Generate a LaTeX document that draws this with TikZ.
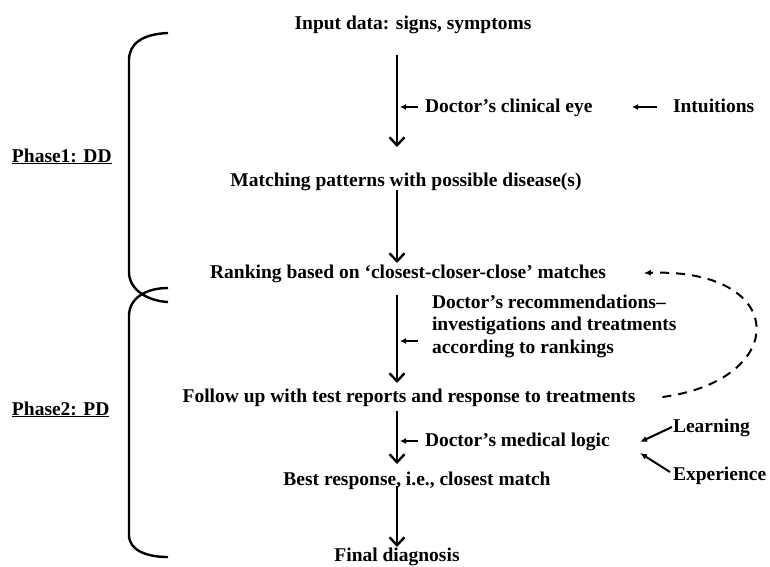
\documentclass[tikz,border=0pt]{standalone}
\usepackage{fontspec}
\setmainfont{Liberation Serif}
\usetikzlibrary{arrows.meta}

\begin{document}
\begin{tikzpicture}[x=1pt, y=-1pt,
    lbl/.style={font=\fontsize{19.5}{22.5}\selectfont\bfseries, inner sep=0pt, outer sep=0pt, text height=14pt, text depth=4pt},
    blk/.style={font=\fontsize{19.5}{22.5}\selectfont\bfseries, inner sep=0pt, outer sep=0pt, align=left},
    flow/.style={-{Straight Barb[length=8pt,width=15pt,line width=2.4pt]}, line width=2.4pt},
    side/.style={-{Latex[length=6pt,width=6pt]}, line width=1.6pt},
    feed/.style={-{Latex[length=7pt,width=6pt]}, line width=2pt},
    brace/.style={line width=2.4pt}]
  \useasboundingbox (0,0) rectangle (770,566);
  \coordinate (ax) at (397,0);

  % main chain
  \node[lbl] (in) at (413,24) {Input data: signs, symptoms};
  \node[lbl] (mp) at (406,181) {Matching patterns with possible disease(s)};
  \node[lbl] (rk) at (408,273) {Ranking based on ‘closest-closer-close’ matches};
  \node[lbl] (fu) at (409,397) {Follow up with test reports and response to treatments};
  \node[lbl] (br) at (417,480) {Best response, i.e., closest match};
  \node[lbl] (fd) at (397,556) {Final diagnosis};

  % side inputs
  \node[lbl, anchor=west] (ce) at (425,107) {Doctor’s clinical eye};
  \node[lbl, anchor=west] (it) at (673,107) {Intuitions};
  \node[blk, anchor=west] (rc) at (432,326) {Doctor’s recommendations–\\investigations and treatments\\according to rankings};
  \node[lbl, anchor=west] (ml) at (425,441) {Doctor’s medical logic};
  \node[lbl, anchor=west] (ln) at (673,427) {Learning};
  \node[lbl, anchor=west] (ex) at (673,475) {Experience};

  % phases
  \node[lbl, anchor=west] (p1) at (12,157) {\underline{Phase1: DD}};
  \node[lbl, anchor=west] (p2) at (12,410) {\underline{Phase2: PD}};

  \draw[flow, shorten <=22pt, shorten >=25pt] (in.south -| ax) -- (mp.north -| ax);
  \draw[flow, shorten >=1pt] (mp.south -| ax) -- (rk.north -| ax);
  \draw[flow, shorten <=13pt, shorten >=5pt] (rk.south -| ax) -- (fu.north -| ax);
  \draw[flow, shorten <=5pt, shorten >=7pt] (fu.south -| ax) -- (br.north -| ax);
  \draw[flow, shorten <=-3pt] (br.south -| ax) -- (fd.north -| ax);

  \draw[side] ([xshift=-7pt]ce.west) -- ([xshift=-25pt]ce.west);
  \draw[side] ([xshift=-16pt]it.west) -- ([xshift=-41pt]it.west);
  \draw[side] ([shift={(-14pt,-15pt)}]rc.west) -- ([shift={(-32pt,-15pt)}]rc.west);
  \draw[side] ([xshift=-7pt]ml.west) -- ([xshift=-25pt]ml.west);
  \draw[feed] ([xshift=-1pt]ln.west) -- ([shift={(-33pt,-15pt)}]ln.west);
  \draw[feed] ([shift={(-3pt,3pt)}]ex.west) -- ([shift={(-33pt,22pt)}]ex.west);

  \draw[feed, dashed, dash pattern=on 9pt off 7pt]
    ([xshift=27pt]fu.east) .. controls (790,380) and (790,268) .. ([xshift=38pt]rk.east);

  % braces
  \draw[brace] (168,33) .. controls (142,34) and (129,44) .. (129,60) -- (129,272)
    .. controls (129,290) and (148,301) .. (168,302);
  \draw[brace] (168,288) .. controls (146,288) and (129,298) .. (129,316) -- (129,535)
    .. controls (129,550) and (146,557) .. (168,557);
\end{tikzpicture}
\end{document}
